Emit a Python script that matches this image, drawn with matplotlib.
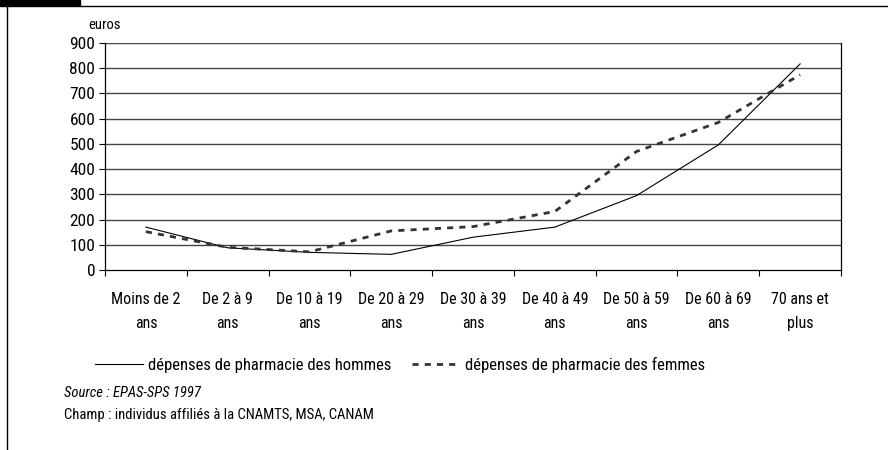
import matplotlib
matplotlib.use("Agg")
import matplotlib.pyplot as plt
import numpy as np
from matplotlib.lines import Line2D
from matplotlib import font_manager as fm

names = {f.name: f for f in fm.fontManager.ttflist}
stretch_ok = any(f.name == 'DejaVu Sans' and f.stretch == 'condensed' for f in fm.fontManager.ttflist)
fam = None
for cand in ['Liberation Sans Narrow', 'Roboto Condensed', 'Open Sans Condensed', 'DejaVu Sans Condensed']:
    if cand in names:
        fam = cand
        break
STRETCH = 'normal'
if fam is None:
    if stretch_ok:
        fam = 'DejaVu Sans'
        STRETCH = 'condensed'
    else:
        fam = 'Liberation Sans'
plt.rcParams['font.family'] = [fam, 'DejaVu Sans']
plt.rcParams['font.stretch'] = STRETCH

categories = ["Moins de 2\nans", "De 2 à 9\nans", "De 10 à 19\nans", "De 20 à 29\nans",
              "De 30 à 39\nans", "De 40 à 49\nans", "De 50 à 59\nans", "De 60 à 69\nans",
              "70 ans et\nplus"]
hommes = [170, 88, 70, 62, 130, 170, 295, 496, 817]
femmes = [152, 90, 72, 155, 172, 232, 470, 585, 774]
yticks = [0, 100, 200, 300, 400, 500, 600, 700, 800, 900]

fig = plt.figure(figsize=(8.88, 4.5), dpi=100)
ax = fig.add_axes([105/888, 1-270/450, (841-105)/888, (270-43)/450])

dash = (0, (2.2, 2.2))
x = np.arange(len(categories)) + 0.5
ax.plot(x, hommes, color='black', lw=0.8)
ax.plot(x, femmes, color='#333333', lw=2.0, linestyle=dash)

ax.set_xlim(0, len(categories))
ax.set_ylim(0, 900)
ax.set_yticks(yticks)
ax.set_yticklabels([str(v) for v in yticks], fontsize=12.5)
for v in yticks[1:]:
    ax.axhline(v, color='#444444', lw=1.0, zorder=0)

ax.set_xticks(np.arange(len(categories) + 1))
ax.set_xticklabels([])
ax.set_xticks(x, minor=True)
ax.set_xticklabels(categories, minor=True, fontsize=11.5, linespacing=1.7)
ax.tick_params(axis='x', which='minor', length=0, pad=16)
ax.tick_params(axis='x', which='major', length=4, width=0.8, direction='out')
ax.tick_params(axis='y', length=4, width=0.8, direction='out', pad=3)

for s in ['top', 'right']:
    ax.spines[s].set_visible(False)
ax.spines['left'].set_linewidth(0.9)
ax.spines['bottom'].set_linewidth(0.9)
ax.plot([1, 1], [0, 1], transform=ax.transAxes, color='black', lw=0.9, clip_on=False)

fig.text(88/888, 1-25/450, "euros", fontsize=10.5, va='center', ha='left')

handles = [Line2D([], [], color='black', lw=0.8),
           Line2D([], [], color='#333333', lw=2.0, linestyle=dash)]
fig.legend(handles, ["dépenses de pharmacie des hommes", "dépenses de pharmacie des femmes"],
           loc='center left', bbox_to_anchor=(80/888, 1-365/450), ncol=2, frameon=False,
           fontsize=12, handlelength=2.9, handletextpad=0.3, columnspacing=1.2)

fig.text(64/888, 1-393/450, "Source : EPAS-SPS 1997", fontsize=10.5, style='italic', va='center')
fig.text(64/888, 1-415/450, "Champ : individus affiliés à la CNAMTS, MSA, CANAM", fontsize=10.5, va='center')

# frame
fig.patches.append(plt.Rectangle((0, 1-6/450), 80/888, 6/450, transform=fig.transFigure,
                                 color='black', zorder=5))
fig.lines.append(Line2D([80/888, 1], [1-5.5/450, 1-5.5/450], transform=fig.transFigure,
                        color='black', lw=1.0))
fig.lines.append(Line2D([6.5/888, 6.5/888], [0, 1-5.5/450], transform=fig.transFigure,
                        color='black', lw=1.0))

fig.savefig("out.png", dpi=100)
